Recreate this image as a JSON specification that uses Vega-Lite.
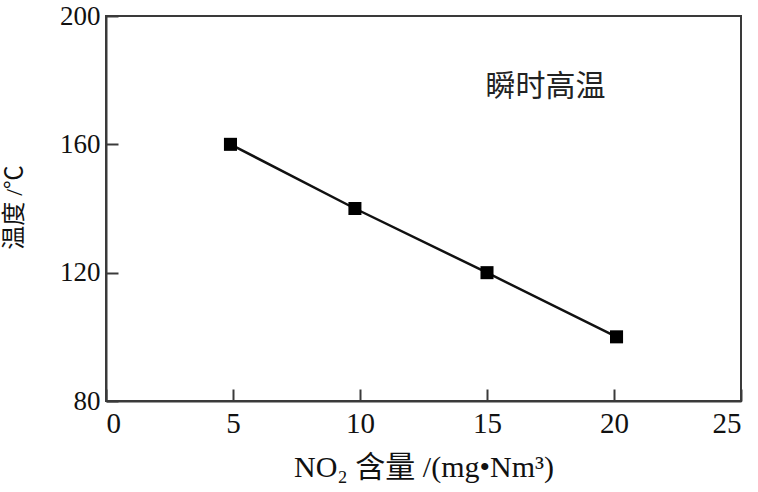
{
  "$schema": "https://vega.github.io/schema/vega-lite/v6.json",
  "autosize": {"type": "none"},
  "padding": {"left": 106, "top": 16, "right": 17, "bottom": 91},
  "width": 635,
  "height": 385,
  "background": "white",
  "view": {"stroke": "#3a3a3a", "strokeWidth": 2},
  "config": {
    "font": "Liberation Serif, Noto Sans CJK SC",
    "axis": {
      "grid": false,
      "domainColor": "#3a3a3a",
      "domainWidth": 2,
      "tickColor": "#3a3a3a",
      "tickWidth": 2,
      "tickSize": -12,
      "labelFont": "Liberation Serif",
      "labelFontSize": 29,
      "labelColor": "#111",
      "titleFont": "Liberation Serif, Noto Sans CJK SC",
      "titleFontSize": 27,
      "titleFontWeight": "normal",
      "titleColor": "#111"
    }
  },
  "data": {
    "values": [
      {"x": 4.9, "y": 160},
      {"x": 9.8, "y": 140},
      {"x": 15.0, "y": 120},
      {"x": 20.1, "y": 100}
    ]
  },
  "layer": [
    {
      "mark": {"type": "line", "color": "#111", "strokeWidth": 2.5},
      "encoding": {
        "x": {
          "field": "x", "type": "quantitative",
          "scale": {"domain": [0, 25], "nice": false, "zero": false},
          "axis": {
            "values": [0, 5, 10, 15, 20, 25],
            "title": "NO₂ 含量 /(mg•Nm³)",
            "titleFontSize": 30,
            "labelPadding": 20,
            "titleBaseline": "middle",
            "titleY": 66
          }
        },
        "y": {
          "field": "y", "type": "quantitative",
          "scale": {"domain": [80, 200], "nice": false, "zero": false},
          "axis": {
            "values": [80, 120, 160, 200],
            "title": "温度 /℃",
            "titleFontSize": 24,
            "labelFontSize": 27,
            "labelPadding": 18,
            "titleAngle": -90,
            "titleBaseline": "middle",
            "titleAlign": "center",
            "titleX": -92,
            "titleY": 191
          }
        }
      }
    },
    {
      "mark": {"type": "square", "color": "#000", "filled": true, "opacity": 1, "size": 170},
      "encoding": {
        "x": {"field": "x", "type": "quantitative"},
        "y": {"field": "y", "type": "quantitative"}
      }
    },
    {
      "data": {"values": [{"x": 17.3, "y": 178, "label": "瞬时高温"}]},
      "mark": {"type": "text", "font": "Noto Sans CJK SC", "fontSize": 30, "color": "#222", "align": "center", "baseline": "middle"},
      "encoding": {
        "x": {"field": "x", "type": "quantitative"},
        "y": {"field": "y", "type": "quantitative"},
        "text": {"field": "label"}
      }
    }
  ]
}
